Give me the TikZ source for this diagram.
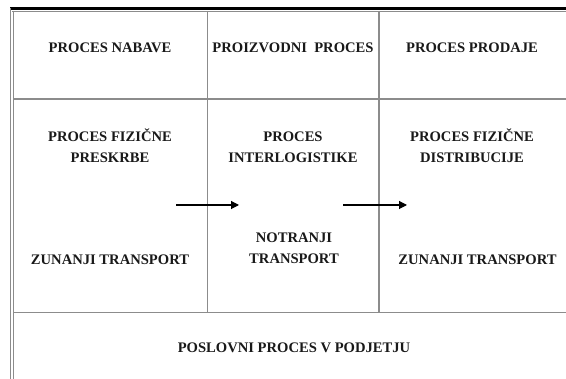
\documentclass[tikz,border=0pt]{standalone}
\usepackage{fontspec}
\setmainfont{Liberation Serif}
\usetikzlibrary{arrows.meta}
\begin{document}
\begin{tikzpicture}[x=1pt,y=-1pt,
  grid/.style={draw=black!45,line width=1.1pt},
  lbl/.style={font=\bfseries\fontsize{14.6}{21}\selectfont,align=center,text=black!90,anchor=base,inner sep=0pt},
  flow/.style={-{Triangle[length=8pt,width=8pt]},line width=1.1pt,black}]
\useasboundingbox (0,0) rectangle (566,379);
% outer frame
\draw[line width=2.2pt,black] (10,8.5) -- (566,8.5);
\draw[draw=black!45,line width=0.8pt] (12,11.5) -- (566,11.5);
\draw[grid,line width=0.9pt] (10,8) -- (10,379);
\draw[grid,line width=0.9pt] (13.5,11) -- (13.5,379);
% inner grid
\draw[grid] (13.5,99) -- (566,99);
\draw[grid] (13.5,312.5) -- (566,312.5);
\draw[grid] (207.5,11) -- (207.5,312.5);
\draw[grid] (379,11) -- (379,312.5);
% texts (base anchor = baseline of last line)
\node[lbl] (nab) at (110,52.5) {PROCES NABAVE};
\node[lbl] (pro) at (293,52.5) {PROIZVODNI\ \ PROCES};
\node[lbl] (prd) at (472,52.5) {PROCES PRODAJE};
\node[lbl] (pre) at (110,163) {PROCES FIZIČNE\\PRESKRBE};
\node[lbl] (int) at (293,163) {PROCES\\INTERLOGISTIKE};
\node[lbl] (dis) at (472,163) {PROCES FIZIČNE\\DISTRIBUCIJE};
\node[lbl] (zt1) at (110,265) {ZUNANJI TRANSPORT};
\node[lbl] (not) at (294,264) {NOTRANJI\\TRANSPORT};
\node[lbl] (zt2) at (477.5,265) {ZUNANJI TRANSPORT};
\node[lbl] (pos) at (294,353) {POSLOVNI PROCES V PODJETJU};
% arrows
\coordinate (a1s) at (176,205);
\coordinate (a1e) at (239,205);
\coordinate (a2s) at (343,205);
\coordinate (a2e) at (407,205);
\draw[flow] (a1s) -- (a1e);
\draw[flow] (a2s) -- (a2e);
\end{tikzpicture}
\end{document}
